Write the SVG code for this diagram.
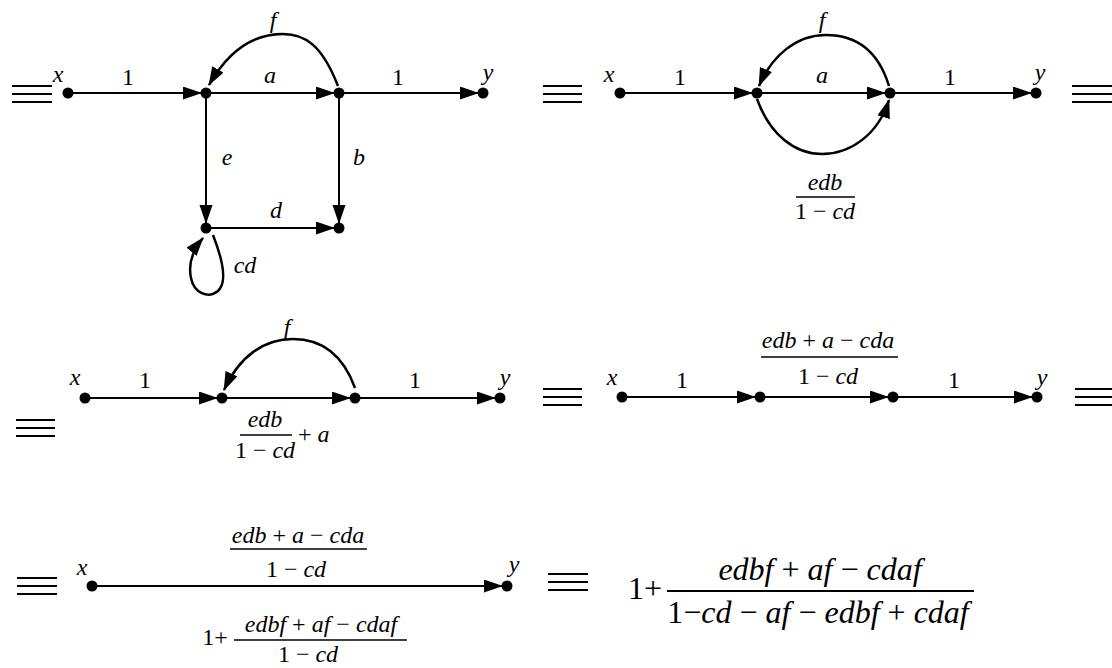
<svg xmlns="http://www.w3.org/2000/svg" width="1112" height="668" viewBox="0 0 1112 668">
<style>
.t{font-family:"Liberation Serif","Times New Roman",serif;font-size:24px;font-style:italic;text-anchor:middle;fill:#000}
.big{font-size:32px}
.n{font-style:normal}
.ln{stroke:#000;stroke-width:2;fill:none}
.cv{stroke:#000;stroke-width:2.5;fill:none}
.eq line{stroke:#000;stroke-width:2}
.bar{stroke:#000;stroke-width:1.3}
.nd{fill:#000}
</style>
<defs>
<marker id="arr" markerUnits="userSpaceOnUse" markerWidth="24" markerHeight="14" refX="23" refY="6.5" orient="auto"><path d="M0,0 L19,6.5 L0,13 z" fill="#000"/></marker>
<marker id="arrC" markerUnits="userSpaceOnUse" markerWidth="20" markerHeight="14" refX="18" refY="6.5" orient="auto"><path d="M0,0 L19,6.5 L0,13 z" fill="#000"/></marker>
</defs>
<rect width="1112" height="668" fill="#fff"/>

<!-- equivalence signs -->
<g class="eq">
<g id="eq1"><line x1="12" y1="86" x2="52" y2="86"/><line x1="12" y1="94" x2="52" y2="94"/><line x1="12" y1="102" x2="52" y2="102"/></g>
<g id="eq2"><line x1="543" y1="86" x2="582" y2="86"/><line x1="543" y1="94" x2="582" y2="94"/><line x1="543" y1="102" x2="582" y2="102"/></g>
<g id="eq3"><line x1="1072" y1="86" x2="1112" y2="86"/><line x1="1072" y1="94" x2="1112" y2="94"/><line x1="1072" y1="102" x2="1112" y2="102"/></g>
<g id="eq4"><line x1="16" y1="420" x2="55" y2="420"/><line x1="16" y1="428" x2="55" y2="428"/><line x1="16" y1="436" x2="55" y2="436"/></g>
<g id="eq5"><line x1="543" y1="389" x2="582" y2="389"/><line x1="543" y1="397" x2="582" y2="397"/><line x1="543" y1="405" x2="582" y2="405"/></g>
<g id="eq6"><line x1="1075" y1="389" x2="1112" y2="389"/><line x1="1075" y1="397" x2="1112" y2="397"/><line x1="1075" y1="405" x2="1112" y2="405"/></g>
<g id="eq7"><line x1="17" y1="578" x2="57" y2="578"/><line x1="17" y1="586" x2="57" y2="586"/><line x1="17" y1="594" x2="57" y2="594"/></g>
<g id="eq8"><line x1="548" y1="574" x2="588" y2="574"/><line x1="548" y1="582" x2="588" y2="582"/><line x1="548" y1="590" x2="588" y2="590"/></g>
</g>

<!-- connectors -->
<g id="connectors">
<!-- diagram 1 -->
<line class="ln" x1="68" y1="93" x2="206" y2="93" marker-end="url(#arr)"/>
<line class="ln" x1="206" y1="93" x2="339" y2="93" marker-end="url(#arr)"/>
<line class="ln" x1="339" y1="93" x2="483" y2="93" marker-end="url(#arr)"/>
<line class="ln" x1="206" y1="93" x2="206" y2="228" marker-end="url(#arr)"/>
<line class="ln" x1="339" y1="93" x2="339" y2="228" marker-end="url(#arr)"/>
<line class="ln" x1="206" y1="228" x2="339" y2="228" marker-end="url(#arr)"/>
<path class="cv" d="M338 86 C322 45 305 34 283 34 C255 34 230 48 209 85" marker-end="url(#arrC)"/>
<path class="cv" d="M213 235 C222 258 228 282 218 291 C208 299 194 293 191 278 C188 264 193 250 203 238" marker-end="url(#arrC)"/>
<!-- diagram 2 -->
<line class="ln" x1="620" y1="93" x2="757" y2="93" marker-end="url(#arr)"/>
<line class="ln" x1="757" y1="93" x2="890" y2="93" marker-end="url(#arr)"/>
<line class="ln" x1="890" y1="93" x2="1036" y2="93" marker-end="url(#arr)"/>
<path class="cv" d="M889 86 C878 50 855 35 826 35 C797 35 772 55 759 86" marker-end="url(#arrC)"/>
<path class="cv" d="M757 99 C770 135 795 154 822 154 C850 154 878 135 889 100" marker-end="url(#arrC)"/>
<!-- diagram 3 -->
<line class="ln" x1="85" y1="398" x2="222" y2="398" marker-end="url(#arr)"/>
<line class="ln" x1="222" y1="398" x2="355" y2="398" marker-end="url(#arr)"/>
<line class="ln" x1="355" y1="398" x2="500" y2="398" marker-end="url(#arr)"/>
<path class="cv" d="M355 388 C342 352 320 339 293 339 C265 339 240 355 224 390" marker-end="url(#arrC)"/>
<!-- diagram 4 -->
<line class="ln" x1="622" y1="397" x2="760" y2="397" marker-end="url(#arr)"/>
<line class="ln" x1="760" y1="397" x2="893" y2="397" marker-end="url(#arr)"/>
<line class="ln" x1="893" y1="397" x2="1037" y2="397" marker-end="url(#arr)"/>
<!-- diagram 5 -->
<line class="ln" x1="92" y1="586" x2="507" y2="586" marker-end="url(#arr)"/>
</g>

<!-- nodes -->
<g id="d1-x"><circle class="nd" cx="68" cy="93" r="5.5"/><text class="t" x="58" y="82">x</text></g>
<g id="d1-A"><circle class="nd" cx="206" cy="93" r="5.5"/></g>
<g id="d1-B"><circle class="nd" cx="339" cy="93" r="5.5"/></g>
<g id="d1-y"><circle class="nd" cx="483" cy="93" r="5.5"/><text class="t" x="488" y="80">y</text></g>
<g id="d1-C"><circle class="nd" cx="206" cy="228" r="5.5"/></g>
<g id="d1-D"><circle class="nd" cx="339" cy="228" r="5.5"/></g>

<g id="d2-x"><circle class="nd" cx="620" cy="93" r="5.5"/><text class="t" x="609" y="82">x</text></g>
<g id="d2-A"><circle class="nd" cx="757" cy="93" r="5.5"/></g>
<g id="d2-B"><circle class="nd" cx="890" cy="93" r="5.5"/></g>
<g id="d2-y"><circle class="nd" cx="1036" cy="93" r="5.5"/><text class="t" x="1040" y="80">y</text></g>

<g id="d3-x"><circle class="nd" cx="85" cy="398" r="5.5"/><text class="t" x="75" y="385">x</text></g>
<g id="d3-A"><circle class="nd" cx="222" cy="398" r="5.5"/></g>
<g id="d3-B"><circle class="nd" cx="355" cy="398" r="5.5"/></g>
<g id="d3-y"><circle class="nd" cx="500" cy="398" r="5.5"/><text class="t" x="505" y="385">y</text></g>

<g id="d4-x"><circle class="nd" cx="622" cy="397" r="5.5"/><text class="t" x="612" y="385">x</text></g>
<g id="d4-A"><circle class="nd" cx="760" cy="397" r="5.5"/></g>
<g id="d4-B"><circle class="nd" cx="893" cy="397" r="5.5"/></g>
<g id="d4-y"><circle class="nd" cx="1037" cy="397" r="5.5"/><text class="t" x="1042" y="385">y</text></g>

<g id="d5-x"><circle class="nd" cx="92" cy="586" r="5.5"/><text class="t" x="82" y="575">x</text></g>
<g id="d5-y"><circle class="nd" cx="507" cy="586" r="5.5"/><text class="t" x="514" y="572">y</text></g>

<!-- edge labels -->
<g id="labels">
<text class="t n" x="128" y="85">1</text>
<text class="t" x="270" y="83">a</text>
<text class="t n" x="398" y="85">1</text>
<text class="t" x="227" y="165">e</text>
<text class="t" x="359" y="165">b</text>
<text class="t" x="276" y="218">d</text>
<text class="t" x="245" y="273">cd</text>
<text class="t" x="273" y="28">f</text>

<text class="t n" x="680" y="85">1</text>
<text class="t" x="822" y="83">a</text>
<text class="t n" x="950" y="85">1</text>
<text class="t" x="822" y="28">f</text>
<text class="t" x="825" y="190">edb</text>
<line class="bar" x1="796" y1="197" x2="855" y2="197"/>
<text class="t" x="825" y="219"><tspan class="n">1 − </tspan>cd</text>

<text class="t n" x="145" y="388">1</text>
<text class="t n" x="415" y="388">1</text>
<text class="t" x="287" y="335">f</text>
<text class="t" x="265" y="427">edb</text>
<line class="bar" x1="240" y1="435" x2="292" y2="435"/>
<text class="t" x="265" y="458"><tspan class="n">1 − </tspan>cd</text>
<text class="t" x="298" y="442" style="text-anchor:start"><tspan class="n">+ </tspan>a</text>

<text class="t n" x="682" y="388">1</text>
<text class="t n" x="954" y="388">1</text>
<text class="t" x="828" y="348">edb <tspan class="n">+</tspan> a <tspan class="n">−</tspan> cda</text>
<line class="bar" x1="761" y1="357" x2="898" y2="357"/>
<text class="t" x="828" y="384"><tspan class="n">1 − </tspan>cd</text>

<text class="t" x="298" y="543">edb <tspan class="n">+</tspan> a <tspan class="n">−</tspan> cda</text>
<line class="bar" x1="230" y1="549" x2="367" y2="549"/>
<text class="t" x="296" y="577"><tspan class="n">1 − </tspan>cd</text>
<text class="t n" x="215" y="645">1+</text>
<text class="t" x="321" y="632">edbf <tspan class="n">+</tspan> af <tspan class="n">−</tspan> cdaf</text>
<line class="bar" x1="234" y1="640" x2="407" y2="640"/>
<text class="t" x="308" y="662"><tspan class="n">1 − </tspan>cd</text>

<text class="t big n" x="645" y="599">1+</text>
<text class="t big" x="820" y="580">edbf <tspan class="n">+</tspan> af <tspan class="n">−</tspan> cdaf</text>
<line class="bar" x1="667" y1="591" x2="974" y2="591" style="stroke-width:1.8"/>
<text class="t big" x="818" y="623"><tspan class="n">1−</tspan>cd <tspan class="n">−</tspan> af <tspan class="n">−</tspan> edbf <tspan class="n">+</tspan> cdaf</text>
</g>
</svg>
